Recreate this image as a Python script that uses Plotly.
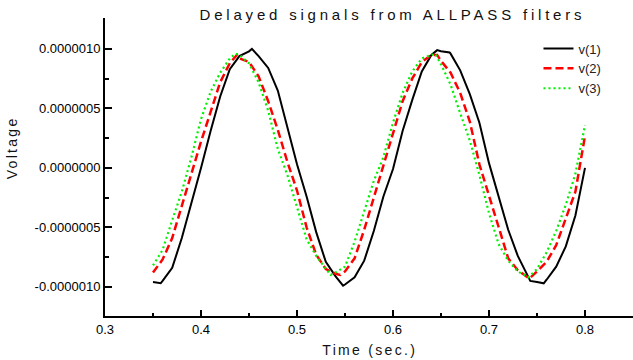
import plotly.graph_objects as go

# ---- data (voltages read in micro-volts, converted to volts below) ----
time_v1 = [0.35, 0.358, 0.36, 0.37, 0.38, 0.39, 0.40, 0.41, 0.42, 0.43, 0.44, 0.45,
           0.453, 0.46, 0.47, 0.48, 0.49, 0.50, 0.51, 0.52, 0.53, 0.54, 0.548,
           0.55, 0.56, 0.57, 0.58, 0.59, 0.60, 0.61, 0.62, 0.63, 0.64, 0.646,
           0.65, 0.659, 0.66, 0.67, 0.68, 0.69, 0.70, 0.71, 0.72, 0.73, 0.74,
           0.743, 0.75, 0.757, 0.76, 0.77, 0.78, 0.79, 0.80]
v1_uv = [-0.96, -0.97, -0.95, -0.84, -0.59, -0.30, 0.00, 0.31, 0.60, 0.83, 0.94, 0.98,
         1.00, 0.94, 0.84, 0.65, 0.34, 0.03, -0.24, -0.54, -0.79, -0.91, -0.99,
         -0.98, -0.92, -0.78, -0.53, -0.24, -0.01, 0.31, 0.57, 0.81, 0.95, 0.99,
         0.98, 0.97, 0.96, 0.82, 0.62, 0.38, 0.04, -0.24, -0.52, -0.74, -0.91,
         -0.95, -0.96, -0.97, -0.94, -0.83, -0.66, -0.40, 0.00]

time_v2 = [0.35, 0.36, 0.37, 0.38, 0.39, 0.40, 0.41, 0.42, 0.43, 0.4375,
           0.44, 0.45, 0.46, 0.47, 0.48, 0.49, 0.50, 0.51, 0.52, 0.53, 0.54, 0.545,
           0.55, 0.56, 0.57, 0.58, 0.59, 0.60, 0.61, 0.62, 0.63, 0.64, 0.646,
           0.65, 0.66, 0.67, 0.68, 0.69, 0.70, 0.71, 0.72, 0.73, 0.74, 0.742,
           0.75, 0.76, 0.77, 0.78, 0.79, 0.80]
v2_uv = [-0.88, -0.77, -0.59, -0.33, -0.05, 0.22, 0.48, 0.72, 0.88, 0.95,
         0.92, 0.89, 0.77, 0.56, 0.32, 0.05, -0.19, -0.50, -0.73, -0.85, -0.89, -0.90,
         -0.87, -0.76, -0.52, -0.25, 0.00, 0.27, 0.56, 0.75, 0.89, 0.95, 0.95,
         0.90, 0.80, 0.63, 0.39, 0.03, -0.23, -0.51, -0.76, -0.86, -0.92, -0.93,
         -0.87, -0.79, -0.65, -0.43, -0.20, 0.27]

time_v3 = [0.35, 0.36, 0.37, 0.38, 0.39, 0.40, 0.41, 0.42, 0.43, 0.436,
           0.44, 0.45, 0.46, 0.47, 0.48, 0.49, 0.50, 0.51, 0.52, 0.53, 0.535,
           0.54, 0.55, 0.56, 0.57, 0.58, 0.59, 0.60, 0.61, 0.62, 0.63, 0.64, 0.644,
           0.65, 0.66, 0.67, 0.68, 0.69, 0.70, 0.71, 0.72, 0.73, 0.74, 0.741,
           0.75, 0.76, 0.77, 0.78, 0.79, 0.80]
v3_uv = [-0.82, -0.69, -0.44, -0.20, 0.09, 0.41, 0.64, 0.80, 0.92, 0.96,
         0.95, 0.88, 0.72, 0.48, 0.16, -0.06, -0.33, -0.60, -0.74, -0.85, -0.90,
         -0.88, -0.83, -0.62, -0.36, -0.11, 0.09, 0.38, 0.63, 0.81, 0.92, 0.95, 0.96,
         0.87, 0.70, 0.46, 0.23, -0.06, -0.38, -0.64, -0.78, -0.87, -0.92, -0.92,
         -0.85, -0.71, -0.53, -0.31, -0.05, 0.36]

series_names = ["v(1)", "v(2)", "v(3)"]
x_tick_vals = [0.3, 0.4, 0.5, 0.6, 0.7, 0.8]
x_tick_text = ["0.3", "0.4", "0.5", "0.6", "0.7", "0.8"]
y_tick_vals = [-1.0e-6, -0.5e-6, 0.0, 0.5e-6, 1.0e-6]
y_tick_text = ["-0.0000010", "-0.0000005", "0.0000000", "0.0000005", "0.0000010"]

UV = 1e-6
FONT = "Liberation Sans, Arial, sans-serif"

fig = go.Figure()
styles = [
    dict(color="#000000", width=2, dash="solid"),
    dict(color="#FF0000", width=2.5, dash="8px,4px"),
    dict(color="#00F000", width=2.2, dash="2px,3px"),
]
for name, t, v, st in zip(series_names, [time_v1, time_v2, time_v3],
                          [v1_uv, v2_uv, v3_uv], styles):
    fig.add_trace(go.Scatter(x=t, y=[val * UV for val in v], mode="lines",
                             name=name, line=st))

axis_common = dict(showline=True, linecolor="black", linewidth=2,
                   showgrid=False, zeroline=False, ticks="inside",
                   tickcolor="black", tickwidth=2,
                   tickfont=dict(family=FONT, size=13, color="black"))

fig.update_xaxes(range=[0.3, 0.85], tickvals=x_tick_vals, ticktext=x_tick_text,
                 ticklen=6,
                 minor=dict(ticks="inside", ticklen=3, tickwidth=2, tickcolor="black",
                            dtick=0.05, tick0=0.3, showgrid=False),
                 **axis_common)
fig.update_yaxes(range=[-1.245e-6, 1.26e-6], tickvals=y_tick_vals, ticktext=y_tick_text,
                 ticklen=7,
                 minor=dict(ticks="inside", ticklen=4, tickwidth=2, tickcolor="black",
                            tickvals=[-0.75e-6, -0.25e-6, 0.25e-6, 0.75e-6], showgrid=False),
                 **axis_common)

fig.update_layout(
    width=633, height=360,
    margin=dict(l=105, r=0, t=18, b=44),
    paper_bgcolor="white", plot_bgcolor="white",
    font=dict(family=FONT, color="black"),
    title=dict(text="Delayed signals from ALLPASS filters", x=0.62, xanchor="center",
               y=0.958, yanchor="middle",
               font=dict(family=FONT, size=15, color="#111111")),
    showlegend=True,
    legend=dict(x=0.821, y=0.948, xanchor="left", yanchor="top",
                bgcolor="rgba(0,0,0,0)", borderwidth=0,
                font=dict(family=FONT, size=13, color="#222222"),
                tracegroupgap=0),
    annotations=[
        dict(text="Time (sec.)", xref="paper", yref="paper", x=0.5, y=-0.114,
             xanchor="center", yanchor="middle", showarrow=False,
             font=dict(family=FONT, size=14, color="#111111")),
        dict(text="Voltage", xref="paper", yref="paper", x=-0.1755, y=0.564,
             xanchor="center", yanchor="middle", showarrow=False, textangle=-90,
             font=dict(family=FONT, size=14, color="#111111")),
    ],
)

post = """
document.body.style.margin = '0';
var gd = document.getElementById('{plot_id}');
gd.querySelectorAll('.gtitle').forEach(function(e){ e.style.letterSpacing='3.8px'; });
gd.querySelectorAll('.annotation-text').forEach(function(e){ e.style.letterSpacing='2.3px'; });
"""
fig.write_html("out.html", post_script=post, config={"displayModeBar": False})
